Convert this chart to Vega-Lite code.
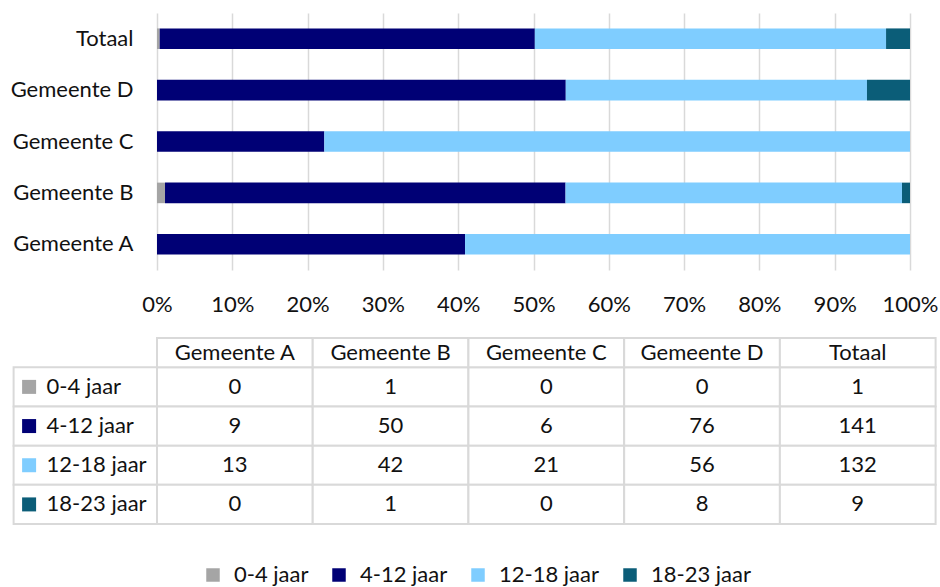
{
  "$schema": "https://vega.github.io/schema/vega-lite/v6.json",
  "background": "white",
  "padding": {"left": 10, "top": 13, "right": 0, "bottom": 0},
  "config": {
    "view": {"stroke": null},
    "font": "Lato",
    "text": {"font": "Lato", "fontSize": 22, "color": "#111111"},
    "axis": {"labelFont": "Lato", "labelFontSize": 22, "labelColor": "#111111"},
    "legend": {"labelFont": "Lato", "labelFontSize": 22, "labelColor": "#111111"},
    "concat": {"spacing": 22}
  },
  "data": {
    "values": [
      {"gemeente": "Gemeente A", "leeftijd": "0-4 jaar", "volgorde": 1, "aantal": 0},
      {"gemeente": "Gemeente A", "leeftijd": "4-12 jaar", "volgorde": 2, "aantal": 9},
      {"gemeente": "Gemeente A", "leeftijd": "12-18 jaar", "volgorde": 3, "aantal": 13},
      {"gemeente": "Gemeente A", "leeftijd": "18-23 jaar", "volgorde": 4, "aantal": 0},
      {"gemeente": "Gemeente B", "leeftijd": "0-4 jaar", "volgorde": 1, "aantal": 1},
      {"gemeente": "Gemeente B", "leeftijd": "4-12 jaar", "volgorde": 2, "aantal": 50},
      {"gemeente": "Gemeente B", "leeftijd": "12-18 jaar", "volgorde": 3, "aantal": 42},
      {"gemeente": "Gemeente B", "leeftijd": "18-23 jaar", "volgorde": 4, "aantal": 1},
      {"gemeente": "Gemeente C", "leeftijd": "0-4 jaar", "volgorde": 1, "aantal": 0},
      {"gemeente": "Gemeente C", "leeftijd": "4-12 jaar", "volgorde": 2, "aantal": 6},
      {"gemeente": "Gemeente C", "leeftijd": "12-18 jaar", "volgorde": 3, "aantal": 21},
      {"gemeente": "Gemeente C", "leeftijd": "18-23 jaar", "volgorde": 4, "aantal": 0},
      {"gemeente": "Gemeente D", "leeftijd": "0-4 jaar", "volgorde": 1, "aantal": 0},
      {"gemeente": "Gemeente D", "leeftijd": "4-12 jaar", "volgorde": 2, "aantal": 76},
      {"gemeente": "Gemeente D", "leeftijd": "12-18 jaar", "volgorde": 3, "aantal": 56},
      {"gemeente": "Gemeente D", "leeftijd": "18-23 jaar", "volgorde": 4, "aantal": 8},
      {"gemeente": "Totaal", "leeftijd": "0-4 jaar", "volgorde": 1, "aantal": 1},
      {"gemeente": "Totaal", "leeftijd": "4-12 jaar", "volgorde": 2, "aantal": 141},
      {"gemeente": "Totaal", "leeftijd": "12-18 jaar", "volgorde": 3, "aantal": 132},
      {"gemeente": "Totaal", "leeftijd": "18-23 jaar", "volgorde": 4, "aantal": 9}
    ]
  },
  "vconcat": [
    {
      "width": 753,
      "height": 257,
      "mark": {"type": "bar"},
      "encoding": {
        "y": {
          "field": "gemeente",
          "type": "nominal",
          "sort": ["Totaal", "Gemeente D", "Gemeente C", "Gemeente B", "Gemeente A"],
          "scale": {"paddingInner": 0.6, "paddingOuter": 0.3},
          "axis": {"title": null, "ticks": false, "domain": false, "grid": false, "labelPadding": 24, "minExtent": 143, "maxExtent": 143}
        },
        "x": {
          "field": "aantal",
          "type": "quantitative",
          "stack": "normalize",
          "scale": {"domain": [0, 1], "nice": false},
          "axis": {
            "title": null,
            "format": "%",
            "values": [0, 0.1, 0.2, 0.3, 0.4, 0.5, 0.6, 0.7, 0.8, 0.9, 1],
            "ticks": false,
            "domain": false,
            "labelPadding": 24,
            "labelFlush": false,
            "labelOverlap": false,
            "grid": true,
            "gridColor": "#d9d9d9",
            "gridWidth": 1.5
          }
        },
        "color": {
          "field": "leeftijd",
          "type": "nominal",
          "scale": {
            "domain": ["0-4 jaar", "4-12 jaar", "12-18 jaar", "18-23 jaar"],
            "range": ["#a5a5a5", "#000075", "#7fcdff", "#0b5d78"]
          },
          "legend": {
            "title": null,
            "orient": "none",
            "direction": "horizontal",
            "legendX": 45,
            "legendY": 551,
            "symbolType": "square",
            "symbolSize": 182,
            "symbolStrokeWidth": 0,
            "labelOffset": 10,
            "columnPadding": 19,
            "padding": 0
          }
        },
        "order": {"field": "volgorde", "type": "quantitative", "sort": "ascending"}
      }
    },
    {
      "width": 778.6,
      "height": 186,
      "layer": [
        {
          "transform": [{"filter": "datum.gemeente === 'Totaal'"}],
          "mark": {"type": "rect", "fill": "white", "stroke": "#d9d9d9", "strokeWidth": 2},
          "encoding": {
            "x": {"datum": "rij", "type": "nominal", "scale": {"range": [-143.4, 0], "paddingInner": 0, "paddingOuter": 0}, "axis": null},
            "y": {"field": "leeftijd", "type": "nominal", "scale": {"domain": ["0-4 jaar", "4-12 jaar", "12-18 jaar", "18-23 jaar"], "range": [29.3, 186], "paddingInner": 0, "paddingOuter": 0}, "axis": null}
          }
        },
        {
          "mark": {"type": "rect", "fill": "white", "stroke": "#d9d9d9", "strokeWidth": 2},
          "encoding": {
            "x": {"field": "gemeente", "type": "nominal", "scale": {"domain": ["Gemeente A", "Gemeente B", "Gemeente C", "Gemeente D", "Totaal"], "range": [0, 778.6], "paddingInner": 0, "paddingOuter": 0}, "axis": null},
            "y": {"field": "leeftijd", "type": "nominal", "scale": {"domain": ["0-4 jaar", "4-12 jaar", "12-18 jaar", "18-23 jaar"], "range": [29.3, 186], "paddingInner": 0, "paddingOuter": 0}, "axis": null}
          }
        },
        {
          "transform": [{"filter": "datum.leeftijd === '0-4 jaar'"}],
          "mark": {"type": "rect", "fill": "white", "stroke": "#d9d9d9", "strokeWidth": 2},
          "encoding": {
            "x": {"field": "gemeente", "type": "nominal", "scale": {"domain": ["Gemeente A", "Gemeente B", "Gemeente C", "Gemeente D", "Totaal"], "range": [0, 778.6], "paddingInner": 0, "paddingOuter": 0}, "axis": null},
            "y": {"datum": "kop", "type": "nominal", "scale": {"range": [0, 29.3], "paddingInner": 0, "paddingOuter": 0}, "axis": null}
          }
        },
        {
          "transform": [{"filter": "datum.gemeente === 'Totaal'"}],
          "mark": {"type": "square", "size": 196, "opacity": 1, "filled": true, "strokeWidth": 0, "xOffset": 15.5},
          "encoding": {
            "x": {"datum": "rij", "type": "nominal", "scale": {"type": "point", "range": [-143.4, 0], "padding": 0, "align": 0}, "axis": null},
            "y": {"field": "leeftijd", "type": "nominal", "scale": {"domain": ["0-4 jaar", "4-12 jaar", "12-18 jaar", "18-23 jaar"], "range": [29.3, 186], "paddingInner": 0, "paddingOuter": 0}, "axis": null},
            "color": {"field": "leeftijd", "type": "nominal"}
          }
        },
        {
          "transform": [{"filter": "datum.gemeente === 'Totaal'"}],
          "mark": {"type": "text", "align": "left", "baseline": "middle", "dx": 33},
          "encoding": {
            "x": {"datum": "rij", "type": "nominal", "scale": {"type": "point", "range": [-143.4, 0], "padding": 0, "align": 0}, "axis": null},
            "y": {"field": "leeftijd", "type": "nominal", "scale": {"domain": ["0-4 jaar", "4-12 jaar", "12-18 jaar", "18-23 jaar"], "range": [29.3, 186], "paddingInner": 0, "paddingOuter": 0}, "axis": null},
            "text": {"field": "leeftijd"}
          }
        },
        {
          "mark": {"type": "text", "align": "center", "baseline": "middle"},
          "encoding": {
            "x": {"field": "gemeente", "type": "nominal", "scale": {"domain": ["Gemeente A", "Gemeente B", "Gemeente C", "Gemeente D", "Totaal"], "range": [0, 778.6], "paddingInner": 0, "paddingOuter": 0}, "axis": null},
            "y": {"field": "leeftijd", "type": "nominal", "scale": {"domain": ["0-4 jaar", "4-12 jaar", "12-18 jaar", "18-23 jaar"], "range": [29.3, 186], "paddingInner": 0, "paddingOuter": 0}, "axis": null},
            "text": {"field": "aantal", "type": "quantitative"}
          }
        },
        {
          "transform": [{"filter": "datum.leeftijd === '0-4 jaar'"}],
          "mark": {"type": "text", "align": "center", "baseline": "middle"},
          "encoding": {
            "x": {"field": "gemeente", "type": "nominal", "scale": {"domain": ["Gemeente A", "Gemeente B", "Gemeente C", "Gemeente D", "Totaal"], "range": [0, 778.6], "paddingInner": 0, "paddingOuter": 0}, "axis": null},
            "y": {"datum": "kop", "type": "nominal", "scale": {"range": [0, 29.3], "paddingInner": 0, "paddingOuter": 0}, "axis": null},
            "text": {"field": "gemeente"}
          }
        }
      ],
      "resolve": {"scale": {"x": "independent", "y": "independent"}}
    }
  ]
}
